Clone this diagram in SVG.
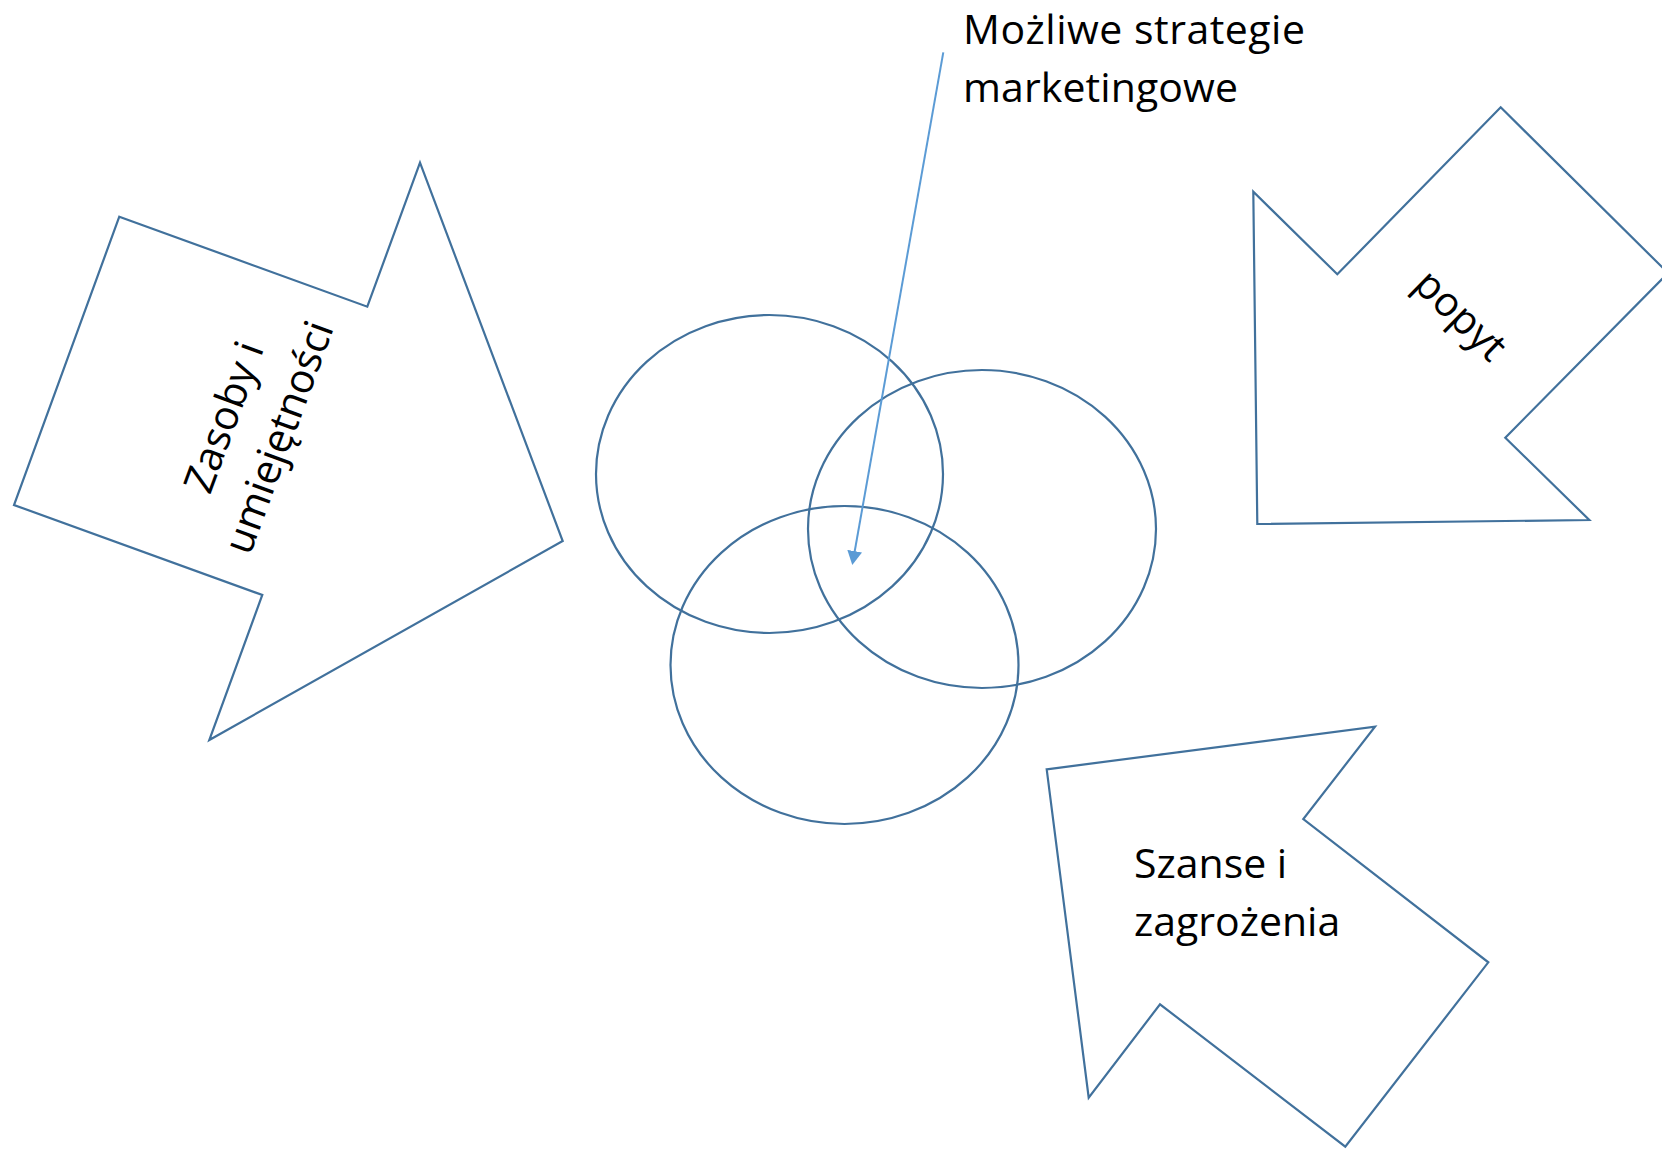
<svg xmlns="http://www.w3.org/2000/svg" width="1662" height="1149" viewBox="0 0 1662 1149">
  <style>
    .shape { fill: #ffffff; stroke: #41719C; stroke-width: 2.2; stroke-linejoin: miter; }
    .ring { fill: none; stroke: #41719C; stroke-width: 2.2; }
    .label { font-family: "Open Sans", "Noto Sans", "Liberation Sans", sans-serif; font-size: 41px; fill: #000000; }
    .link { fill: none; stroke: #5B9BD5; stroke-width: 2; }
  </style>
  <defs>
    <marker id="head" markerUnits="userSpaceOnUse" viewBox="0 0 14 16" markerWidth="14" markerHeight="16" refX="11" refY="8" orient="auto">
      <path d="M0,0.5 L14,8 L0,15.5 Z" fill="#5B9BD5"/>
    </marker>
  </defs>

  <rect width="1662" height="1149" fill="#ffffff"/>

  <!-- block arrow: resources and skills -->
  <g id="node-zasoby">
    <polygon class="shape" points="119.3,216.7 367.3,306.7 420,162.7 562.7,541 209.3,740 262.3,595 14,505"/>
    <g transform="translate(264.5,432) rotate(-69.8)">
      <text class="label" text-anchor="middle" x="0" y="-29.2">Zasoby i</text>
      <text class="label" text-anchor="middle" x="0" y="29.2">umiejętności</text>
    </g>
  </g>

  <!-- block arrow: demand -->
  <g id="node-popyt">
    <polygon class="shape" points="1257.3,524 1253.3,191.7 1337.3,274.3 1500.7,107.3 1668,273 1505.3,437.7 1589.3,520"/>
    <text class="label" text-anchor="middle" transform="translate(1451,325) rotate(44.5)">popyt</text>
  </g>

  <!-- block arrow: opportunities and threats -->
  <g id="node-szanse">
    <polygon class="shape" points="1046.7,769.3 1375,726.7 1303.3,819 1488.3,962.3 1345.3,1146.7 1160,1004.3 1088.7,1097.7"/>
    <text class="label" x="1134" y="877.7">Szanse i</text>
    <text class="label" x="1134" y="936">zagrożenia</text>
  </g>

  <!-- three overlapping ellipses -->
  <g id="node-circle-a">
    <ellipse class="ring" cx="769.5" cy="474" rx="173.5" ry="159"/>
  </g>
  <g id="node-circle-b">
    <ellipse class="ring" cx="982" cy="529" rx="174" ry="159"/>
  </g>
  <g id="node-circle-c">
    <ellipse class="ring" cx="844.5" cy="665" rx="174" ry="159"/>
  </g>

  <!-- callout caption -->
  <g id="node-strategie">
    <text class="label" x="963" y="44.3" textLength="342" lengthAdjust="spacing">Możliwe strategie</text>
    <text class="label" x="963" y="101.7" textLength="275" lengthAdjust="spacing">marketingowe</text>
  </g>

  <g id="connectors">
    <line class="link" x1="943.3" y1="52.3" x2="852.8" y2="562" marker-end="url(#head)"/>
  </g>
</svg>
